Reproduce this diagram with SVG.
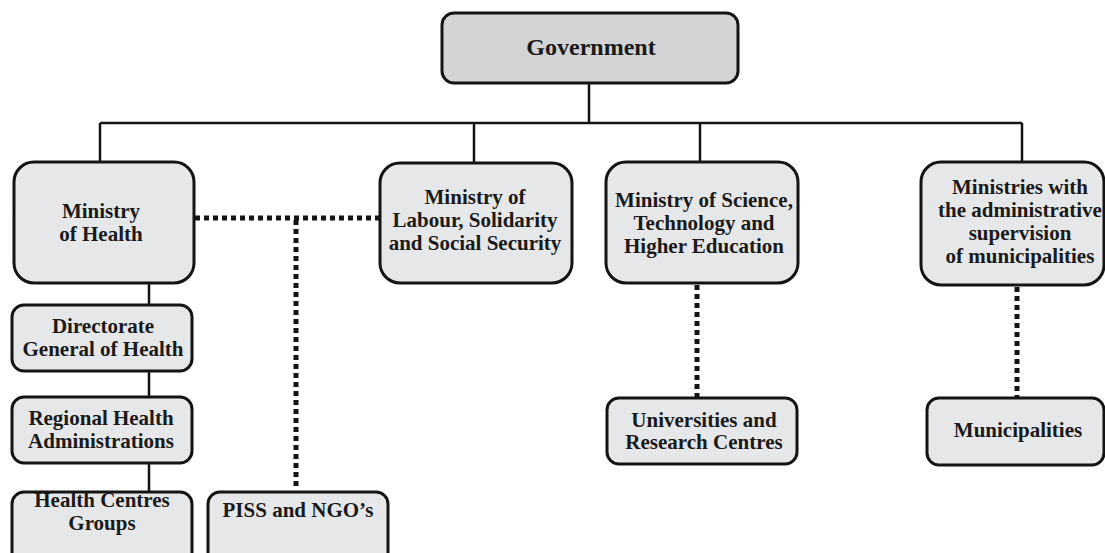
<svg xmlns="http://www.w3.org/2000/svg" width="1105" height="553" viewBox="0 0 1105 553">
  <style>
    .box { fill: #e6e7e8; stroke: #141414; stroke-width: 3; }
    .top { fill: #d3d4d6; }
    .lbl { font-family: "Liberation Serif", "Times New Roman", serif; font-weight: bold; font-size: 21px; fill: #1a1a1a; text-anchor: middle; }
    .big { font-size: 24px; }
    .solid { fill: none; stroke: #141414; stroke-width: 2.5; }
    .dot { fill: none; stroke: #141414; stroke-width: 5; stroke-dasharray: 5 4; }
  </style>
  <rect width="1105" height="553" fill="#ffffff"/>

  <!-- connectors -->
  <g id="connectors">
    <path class="solid" d="M589 83 V123 M100 123 H1022 M100 123 V163 M474 123 V163 M700 123 V163 M1022 123 V163"/>
    <path class="solid" d="M149 283 V305 M149 371 V397 M149 463 V492"/>
    <path class="dot" d="M195 218 H380"/>
    <path class="dot" d="M296 220 V490"/>
    <path class="dot" d="M697 285 V397"/>
    <path class="dot" d="M1017 287 V397"/>
  </g>

  <g id="government">
    <rect class="box top" x="442" y="13" width="296" height="70" rx="12"/>
    <text class="lbl big" x="591" y="55">Government</text>
  </g>

  <g id="ministry-health">
    <rect class="box" x="14" y="162" width="180" height="121" rx="20"/>
    <text class="lbl" x="101" y="218">Ministry</text>
    <text class="lbl" x="101" y="241">of Health</text>
  </g>

  <g id="ministry-labour">
    <rect class="box" x="380" y="163" width="192" height="120" rx="20"/>
    <text class="lbl" x="475" y="204">Ministry of</text>
    <text class="lbl" x="475" y="227">Labour, Solidarity</text>
    <text class="lbl" x="475" y="250">and Social Security</text>
  </g>

  <g id="ministry-science">
    <rect class="box" x="606" y="162" width="192" height="121" rx="20"/>
    <text class="lbl" x="704" y="207">Ministry of Science,</text>
    <text class="lbl" x="704" y="230">Technology and</text>
    <text class="lbl" x="704" y="253">Higher Education</text>
  </g>

  <g id="ministries-municipal">
    <rect class="box" x="921" y="162" width="183" height="123" rx="20"/>
    <text class="lbl" x="1020" y="194">Ministries with</text>
    <text class="lbl" x="1020" y="217">the administrative</text>
    <text class="lbl" x="1020" y="240">supervision</text>
    <text class="lbl" x="1020" y="263">of municipalities</text>
  </g>

  <g id="directorate">
    <rect class="box" x="12" y="305" width="180" height="66" rx="12"/>
    <text class="lbl" x="103" y="333">Directorate</text>
    <text class="lbl" x="103" y="356">General of Health</text>
  </g>

  <g id="regional">
    <rect class="box" x="12" y="397" width="180" height="66" rx="12"/>
    <text class="lbl" x="101" y="425">Regional Health</text>
    <text class="lbl" x="101" y="448">Administrations</text>
  </g>

  <g id="health-centres">
    <rect class="box" x="12" y="492" width="180" height="80" rx="12"/>
    <text class="lbl" x="102" y="507">Health Centres</text>
    <text class="lbl" x="102" y="530">Groups</text>
  </g>

  <g id="piss-ngo">
    <rect class="box" x="208" y="492" width="180" height="80" rx="12"/>
    <text class="lbl" x="298" y="517">PISS and NGO’s</text>
  </g>

  <g id="universities">
    <rect class="box" x="607" y="398" width="190" height="66" rx="12"/>
    <text class="lbl" x="704" y="427">Universities and</text>
    <text class="lbl" x="704" y="449">Research Centres</text>
  </g>

  <g id="municipalities">
    <rect class="box" x="927" y="398" width="177" height="67" rx="12"/>
    <text class="lbl" x="1018" y="437">Municipalities</text>
  </g>
</svg>
